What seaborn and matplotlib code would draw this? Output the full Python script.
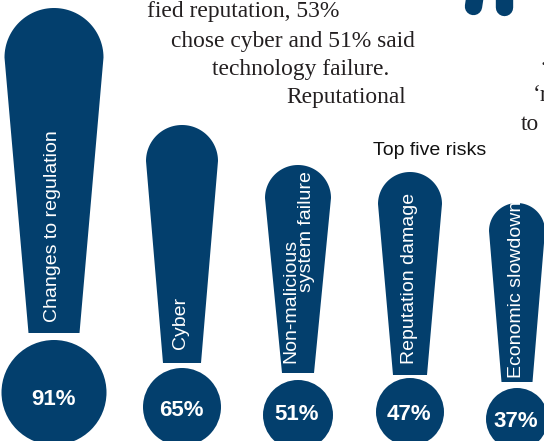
import numpy as np
import pandas as pd
import matplotlib
matplotlib.use("Agg")
import matplotlib.pyplot as plt
import seaborn as sns
from matplotlib.path import Path
from matplotlib.patches import PathPatch

# ---- data ----
risks = ["Changes to regulation", "Cyber", "Non-malicious system failure",
         "Reputation damage", "Economic slowdown"]
label_lines = [["Changes to regulation"], ["Cyber"], ["Non-malicious", "system failure"],
               ["Reputation damage"], ["Economic slowdown"]]
values = [91, 65, 51, 47, 37]
title = "Top five risks"
body_lines = ["fied reputation, 53%", "chose cyber and 51% said",
              "technology failure.", "Reputational"]
side_lines = [".", "\u2018r", "to"]

# ---- layout (pixel geometry of the exclamation marks) ----
cx = [54, 182, 298, 410, 517]
stem_top = [8, 125, 165, 172, 203]
stem_bot = [333, 363, 373, 375, 382]
w_top = [99, 72, 66, 64, 56]
w_bot = [51, 38, 32, 34, 31]
head_y = [392.5, 407, 415, 412, 419]
head_r = [52.5, 39, 35, 34, 31]
pct_base = [405, 416, 420, 420, 427]
lbl_x = [[52.5], [180], [291, 306.5], [410], [516.5]]
lbl_start = [[322], [349], [363, 292], [364], [378]]

BLUE = "#033f6d"
TXT = "#231f20"

sns.set_theme(style="white")
plt.rcParams["font.family"] = ["Liberation Sans", "DejaVu Sans"]

W, H = 544, 441
fig = plt.figure(figsize=(W / 100, H / 100), dpi=100)
ax = fig.add_axes([0, 0, 1, 1])

# heads (dots) via seaborn scatter
df = pd.DataFrame({"risk": risks, "x": cx, "y": head_y, "value": values})
size_map = {r: (2 * rr * 72 / 100) ** 2 for r, rr in zip(risks, head_r)}
sns.scatterplot(data=df, x="x", y="y", size="risk", sizes=size_map,
                color=BLUE, linewidth=0, legend=False, ax=ax, zorder=2)

# stems
for i, r in enumerate(risks):
    rt = w_top[i] / 2
    capc = stem_top[i] + rt
    th = np.linspace(np.pi, 0, 60)
    arc = np.column_stack([cx[i] + rt * np.cos(th), capc - rt * np.sin(th)])
    pts = np.vstack([[cx[i] - w_bot[i] / 2, stem_bot[i]],
                     [cx[i] - rt, capc],
                     arc,
                     [cx[i] + rt, capc],
                     [cx[i] + w_bot[i] / 2, stem_bot[i]],
                     [cx[i] - w_bot[i] / 2, stem_bot[i]]])
    codes = [Path.MOVETO] + [Path.LINETO] * (len(pts) - 2) + [Path.CLOSEPOLY]
    patch = PathPatch(Path(pts, codes), facecolor=BLUE, edgecolor="none", zorder=2)
    ax.add_patch(patch)
    for line, lx, ly in zip(label_lines[i], lbl_x[i], lbl_start[i]):
        t = ax.text(lx, ly, line, rotation=90, rotation_mode="anchor",
                    ha="left", va="center", color="white", fontsize=14, zorder=3)
        t.set_clip_path(patch)
    ax.text(cx[i] - 1, pct_base[i], f"{values[i]}%", ha="center", va="baseline",
            color="white", fontsize=16, fontweight="bold", zorder=3)

# title
ax.text(373, 155, title, ha="left", va="baseline", color="#111111", fontsize=14)

# surrounding body copy
body_x = [147, 171, 212, 286]
body_y = [17, 46.5, 74.5, 102.5]
for s, bx, by in zip(body_lines, body_x, body_y):
    ax.text(bx, by, s, ha="left", va="baseline", color=TXT, fontsize=16.9,
            family="Liberation Serif")
for s, bx, by in zip(side_lines, [541, 533, 521], [65, 101, 129.5]):
    ax.text(bx, by, s, ha="left", va="baseline", color=TXT, fontsize=16.9,
            family="Liberation Serif")

# decorative legs at top right
ax.plot([476, 473.5], [-10, 6.5], color=BLUE, lw=12.5, solid_capstyle="round", zorder=2)
ax.plot([504, 504], [-10, 6.5], color=BLUE, lw=12.5, solid_capstyle="round", zorder=2)

ax.set_xlim(0, W)
ax.set_ylim(H, 0)
ax.axis("off")
fig.savefig("out.png", dpi=100)
